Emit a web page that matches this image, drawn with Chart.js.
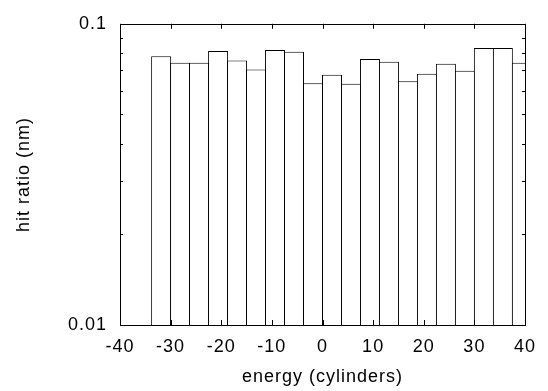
<!DOCTYPE html>
<html>
<head>
<meta charset="utf-8">
<script src="https://cdn.jsdelivr.net/npm/chart.js@4.4.1/dist/chart.umd.min.js"></script>
<style>
  html, body { margin: 0; padding: 0; background: #fff; }
  canvas { display: block; }
</style>
</head>
<body>
<canvas id="myChart" width="548" height="391"></canvas>
<script>
// centri dei bin (asse x)
const binCenters = [-31.875, -28.125, -24.375, -20.625, -16.875, -13.125, -9.375, -5.625, -1.875, 1.875,
  5.625, 9.375, 13.125, 16.875, 20.625, 24.375, 28.125, 31.875, 35.625, 39.375];
// valori
const hitRatio = [0.0781, 0.0742, 0.0742, 0.0813, 0.0755, 0.0705, 0.0819, 0.0807, 0.0635, 0.0677,
  0.0632, 0.0764, 0.0748, 0.0645, 0.0682, 0.0737, 0.0699, 0.0831, 0.0831, 0.0742];
// tick asse y (log)
const yTickValues = [0.01, 0.02, 0.03, 0.04, 0.05, 0.06, 0.07, 0.08, 0.09, 0.1];
const yTickLabels = { 0.01: '0.01', 0.1: '0.1' };
const xTickValues = [-40, -30, -20, -10, 0, 10, 20, 30, 40];

const FONT = "'Liberation Sans', Arial, Helvetica, sans-serif";

// spaziatura lettere come nell'originale
const spacingPlugin = {
  id: 'spacing',
  beforeLayout(chart) { chart.ctx.letterSpacing = '1px'; },
  beforeDraw(chart) { chart.ctx.letterSpacing = '1px'; }
};

// cornice e tacche verso l'interno
const framePlugin = {
  id: 'frame',
  afterDatasetsDraw(chart) {
    const { ctx, chartArea: a } = chart;
    const xs = chart.scales.x, ys = chart.scales.y;
    ctx.save();
    ctx.strokeStyle = '#000';
    ctx.lineWidth = 1;
    ctx.beginPath();
    xTickValues.forEach(v => {
      const px = Math.round(xs.getPixelForValue(v)) + 0.5;
      ctx.moveTo(px, a.bottom); ctx.lineTo(px, a.bottom - 5);
      ctx.moveTo(px, a.top); ctx.lineTo(px, a.top + 5);
    });
    yTickValues.forEach(v => {
      const py = Math.round(ys.getPixelForValue(v)) + 0.5;
      const len = yTickLabels[v] ? 5 : 3;
      ctx.moveTo(a.left, py); ctx.lineTo(a.left + len, py);
      ctx.moveTo(a.right, py); ctx.lineTo(a.right - len, py);
    });
    ctx.stroke();
    ctx.strokeRect(Math.round(a.left) + 0.5, Math.round(a.top) + 0.5,
      Math.round(a.right - a.left), Math.round(a.bottom - a.top));
    ctx.restore();
  }
};

const chart = new Chart(document.getElementById('myChart'), {
  type: 'bar',
  data: {
    datasets: [{
      data: binCenters.map((c, i) => ({ x: c, y: hitRatio[i] })),
      backgroundColor: '#fff',
      borderColor: '#000',
      borderWidth: 1,
      barPercentage: 1.053,
      categoryPercentage: 1,
    }]
  },
  options: {
    responsive: false,
    devicePixelRatio: 1,
    animation: false,
    layout: { padding: { top: 14, right: 23, left: 0, bottom: 0 } },
    plugins: { legend: { display: false }, tooltip: { enabled: false } },
    scales: {
      x: {
        type: 'linear',
        min: -40, max: 40,
        offset: false,
        grid: { display: false, drawTicks: false },
        border: { display: false },
        afterBuildTicks(scale) { scale.ticks = xTickValues.map(v => ({ value: v })); },
        afterFit(scale) { scale.height = 66; },
        ticks: {
          padding: 11,
          color: '#000',
          maxRotation: 0,
          autoSkip: false,
          font: { family: FONT, size: 18 },
        },
        title: {
          display: true,
          text: 'energy (cylinders)',
          color: '#000',
          font: { family: FONT, size: 18 },
          padding: { top: 0, bottom: 3 },
        },
      },
      y: {
        type: 'logarithmic',
        min: 0.01, max: 0.1,
        grid: { display: false, drawTicks: false },
        border: { display: false },
        afterBuildTicks(scale) { scale.ticks = yTickValues.map(v => ({ value: v })); },
        afterFit(scale) { scale.width = 120; },
        ticks: {
          padding: 13,
          color: '#000',
          autoSkip: false,
          font: { family: FONT, size: 18 },
          callback: (v) => yTickLabels[v] || '',
        },
        title: {
          display: true,
          text: 'hit ratio (nm)',
          color: '#000',
          font: { family: FONT, size: 18 },
          padding: { top: 13, bottom: 0 },
        },
      },
    },
  },
  plugins: [spacingPlugin, framePlugin],
});
</script>
</body>
</html>
